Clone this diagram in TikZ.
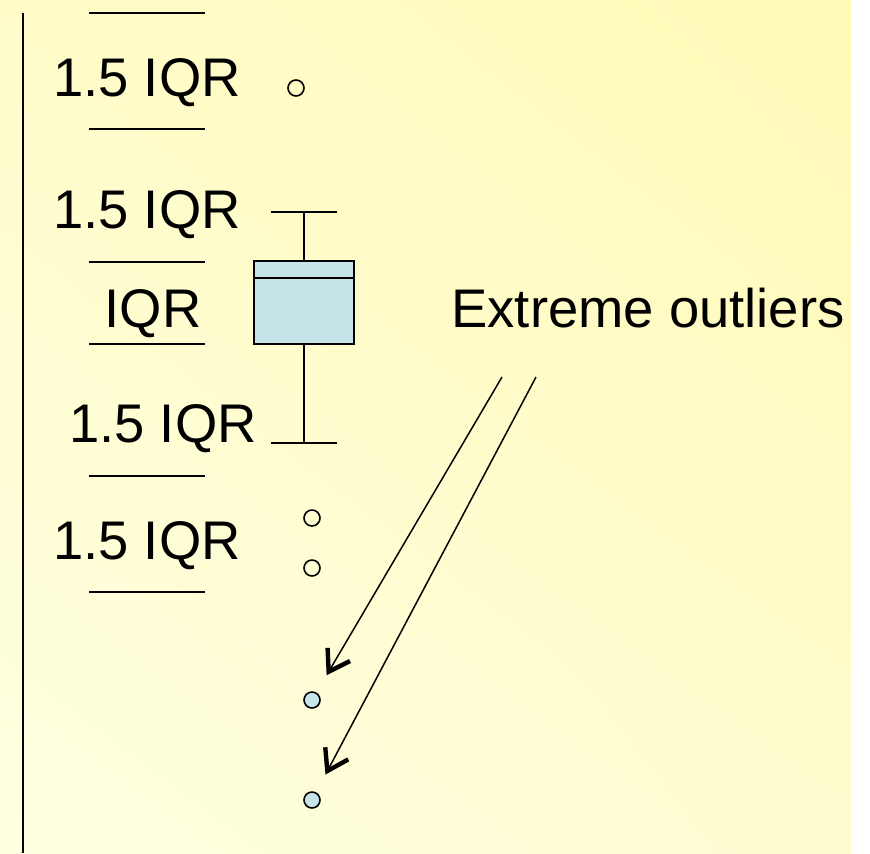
\documentclass[tikz,border=0pt]{standalone}
\usepackage{fontspec}
\setmainfont{Liberation Sans}
\usetikzlibrary{arrows.meta, positioning, shadings}
\definecolor{boxblue}{HTML}{C5E5E9}
\definecolor{bgtr}{HTML}{FFFAB6}
\definecolor{bgtl}{HTML}{FFFCCA}
\definecolor{bgbl}{HTML}{FFFFE2}
\definecolor{bgbr}{HTML}{FFFCD0}

\begin{document}
\begin{tikzpicture}[x=0.5pt,y=-0.5pt,
		lbl/.style={anchor=base,inner sep=0pt,font=\fontsize{27.2}{32}\selectfont},
		sep/.style={line width=0.8pt},
		iqrbox/.style={draw,line width=1pt,fill=boxblue,rectangle,minimum width=50pt,minimum height=41.5pt,inner sep=0pt},
		outl/.style={draw,circle,line width=0.8pt,minimum size=8pt,inner sep=0pt},
		extr/.style={outl,fill=boxblue},
		pointer/.style={line width=0.75pt,-{Straight Barb[length=10pt,width=13pt,line width=2.2pt]},shorten >=10pt}]
		\useasboundingbox (0,0) rectangle (870,853);
		\shade[upper left=bgtl,upper right=bgtr,lower left=bgbl,lower right=bgbr] (0,0) rectangle (851,853);
		% scale on the left
		\draw [line width=1pt] (23,13) -- (23,853);
		\foreach \y in {13,129,262,344,476,592}
			\draw [sep] (89,\y) -- (205,\y);
		\node (up2) [lbl] at (147,96) {1.5 IQR};
		\node (up1) [lbl] at (147,228) {1.5 IQR};
		\node (iqr) [lbl] at (153,327) {IQR};
		\node (lo1) [lbl] at (163,442) {1.5 IQR};
		\node (lo2) [lbl] at (147,559) {1.5 IQR};
		% box and whiskers
		\node (box) [iqrbox] at (304,302.5) {};
		\draw [line width=1pt] (254,278) -- (354,278);
		\coordinate (wtop) at (304,212);
		\coordinate (wbot) at (304,443);
		\draw [sep] (box.north) -- (wtop);
		\draw [sep] (box.south) -- (wbot);
		\draw [sep] (271,212) -- (337,212);
		\draw [sep] (271,443) -- (337,443);
		% outliers
		\node (o1) [outl] at (296,88) {};
		\node (o2) [outl] at (312,518) {};
		\node (o3) [outl] at (312,568) {};
		\node (x1) [extr] at (312,700) {};
		\node (x2) [extr] at (312,800) {};
		\node (ext) [lbl] at (648,327) {Extreme outliers};
		\coordinate (s1) at (502,377);
		\coordinate (s2) at (536,377);
		\draw [pointer] (s1) -- (x1);
		\draw [pointer] (s2) -- (x2);
	\end{tikzpicture}
\end{document}
